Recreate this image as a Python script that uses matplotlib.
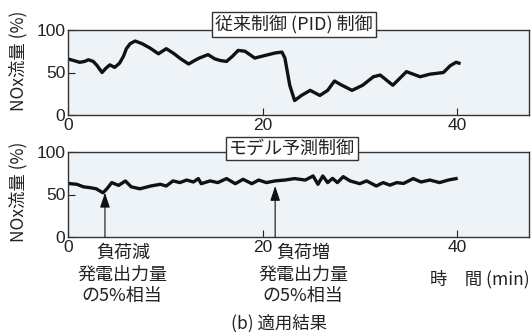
import matplotlib
matplotlib.use("Agg")
import matplotlib.pyplot as plt

# ---- data -------------------------------------------------------------
# Conventional PID control: NOx flow (%) vs time (min)
pid_time = [0, 0.6, 1.2, 1.7, 2.1, 2.6, 3.0, 3.5, 3.9, 4.3, 4.8, 5.3, 5.7, 6.0,
            6.4, 6.9, 7.6, 8.4, 9.3, 10.1, 10.8, 11.6, 12.4, 13.0, 13.5, 14.4,
            15.1, 15.7, 16.3, 16.9, 17.5, 18.2, 19.2, 19.9, 20.6, 21.3, 22.0,
            22.3, 22.8, 23.3, 24.0, 24.9, 25.9, 26.7, 27.4, 28.0, 29.2, 30.3,
            31.4, 32.1, 33.4, 34.8, 36.2, 37.2, 38.6, 39.3, 39.9, 40.2]
pid_nox = [66, 64, 62, 63, 65, 63, 58, 50, 55, 59, 56, 61, 69, 78,
           84, 87, 84, 79, 72, 78, 73, 66, 60, 64, 67, 71,
           66, 64, 63, 69, 76, 75, 67, 69, 71, 73, 74,
           67, 35, 17, 23, 29, 23, 29, 40, 36, 29, 35,
           45, 47, 35, 51, 45, 48, 50, 58, 62, 61]

# Model predictive control: NOx flow (%) vs time (min)
mpc_time = [0, 0.9, 1.6, 2.3, 2.9, 3.6, 4.0, 4.5, 5.2, 5.9, 6.5, 7.4, 8.5,
            9.5, 10.1, 10.8, 11.5, 12.2, 12.9, 13.4, 13.7, 14.6, 15.4, 16.3,
            17.2, 18.0, 18.9, 19.6, 20.4, 21.3, 22.3, 23.3, 24.4, 25.2, 25.7,
            26.2, 26.7, 27.2, 27.7, 28.3, 29.0, 30.0, 30.7, 31.7, 32.4, 33.1,
            33.8, 34.5, 35.5, 36.3, 37.2, 38.2, 39.1, 39.9]
mpc_nox = [63, 62, 59, 58, 56.7, 52, 56.7, 64, 60.7, 65.9, 59, 56.7, 60,
           62, 60, 66, 64, 67, 64.7, 68.7, 62.7, 66, 64, 68.7,
           62.7, 67.9, 62.7, 67, 64, 66, 67, 68.7, 67, 71.8, 62,
           71.8, 64, 69, 64, 71, 66, 62.7, 66, 60, 64, 61,
           64, 63, 68.7, 64.7, 67, 64, 67, 68.7]

# Load-change events marked on the MPC panel: (time, NOx at arrow tip)
events_time = [3.8, 21.3]
events_nox = [52, 60]
events_text = ["負荷減", "負荷増"]

x_ticks = [0, 20, 40]
y_ticks = [0, 50, 100]
panel_titles = ["従来制御 (PID) 制御", "モデル予測制御"]
y_label = "NOx流量 (%)"

# ---- figure -------------------------------------------------------------
W, H = 532, 332
fig = plt.figure(figsize=(W / 100, H / 100), dpi=100, facecolor="white")

JP = ["Noto Sans CJK JP", "DejaVu Sans"]
NUM = ["Liberation Sans", "DejaVu Sans"]


def fx(x):
    return x / W


def fy(y):
    return 1 - y / H


def make_axes(top, bottom):
    ax = fig.add_axes([fx(68), fy(bottom), fx(529) - fx(68), fy(top) - fy(bottom)])
    ax.set_facecolor("#eef3f8")
    ax.set_xlim(0, 47.4)
    ax.set_ylim(0, 100)
    ax.set_xticks(x_ticks)
    ax.set_yticks(y_ticks)
    ax.tick_params(direction="in", length=5, width=0.8, labelsize=12.5,
                   pad=2, colors="#222222")
    for lab in ax.get_xticklabels() + ax.get_yticklabels():
        lab.set_family(NUM)
    for s in ax.spines.values():
        s.set_linewidth(1.0)
        s.set_color("#333333")
    return ax


ax1 = make_axes(30, 115)
ax2 = make_axes(152, 237)

ax1.plot(pid_time, pid_nox, color="#111111", lw=2.4, solid_joinstyle="round")
ax2.plot(mpc_time, mpc_nox, color="#111111", lw=2.4, solid_joinstyle="round")

box = dict(boxstyle="square,pad=0.15", fc="white", ec="#333333", lw=1.0)
fig.text(fx(294), fy(24.5), panel_titles[0], family=JP, fontsize=13,
         ha="center", va="center", bbox=box, color="#222222")
fig.text(fx(292), fy(148.5), panel_titles[1], family=JP, fontsize=13,
         ha="center", va="center", bbox=box, color="#222222")

for yc in (61, 192):
    fig.text(fx(18), fy(yc), y_label, family=JP, fontsize=12.5, rotation=90,
             ha="center", va="center", color="#222222")

# event arrows
for t, v in zip(events_time, events_nox):
    ax2.annotate("", xy=(t, v), xytext=(t, 0),
                 arrowprops=dict(arrowstyle="-|>,head_length=0.9,head_width=0.3",
                                 color="#111111", lw=0.8, shrinkA=0, shrinkB=0))

fig.text(fx(123), fy(253), events_text[0], family=JP, fontsize=13,
         ha="center", va="center", color="#222222")
fig.text(fx(303), fy(253), events_text[1], family=JP, fontsize=13,
         ha="center", va="center", color="#222222")
for xc in (122, 303):
    fig.text(fx(xc), fy(275), "発電出力量", family=JP, fontsize=13,
             ha="center", va="center", color="#222222")
    fig.text(fx(xc), fy(296), "の5%相当", family=JP, fontsize=13,
             ha="center", va="center", color="#222222")

fig.text(fx(530), fy(279), "時　間 (min)", family=JP, fontsize=12.5,
         ha="right", va="center", color="#222222")
fig.text(fx(279), fy(323), "(b) 適用結果", family=JP, fontsize=12.5,
         ha="center", va="center", color="#222222")

fig.savefig("out.png", dpi=100, facecolor="white")
